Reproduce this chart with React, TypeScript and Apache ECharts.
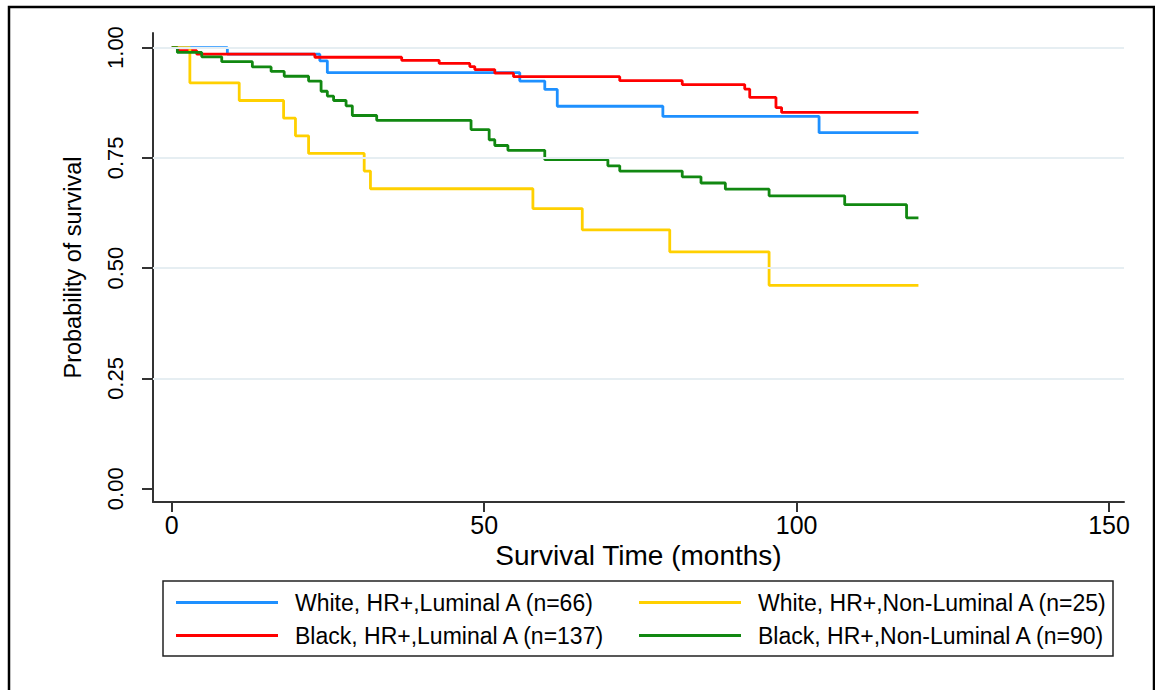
import React, { useEffect, useRef } from "react";
import * as echarts from "echarts";

const xTicks = [0, 50, 100, 150];
const yTicks = [0, 0.25, 0.5, 0.75, 1];
const gridValues = [0.25, 0.5, 0.75, 1];

const xTitle = "Survival Time (months)";
const yTitle = "Probability of survival";

const nameWhiteLum = "White, HR+,Luminal A (n=66)";
const nameBlackLum = "Black, HR+,Luminal A (n=137)";
const nameWhiteNon = "White, HR+,Non-Luminal A (n=25)";
const nameBlackNon = "Black, HR+,Non-Luminal A (n=90)";

const whiteLumTime = [0, 8.9, 23.7, 24.9, 55.7, 59.7, 61.7, 78.6, 103.6, 119.5];
const whiteLumSurv = [1, 0.985, 0.97, 0.943, 0.924, 0.905, 0.867, 0.844, 0.807, 0.807];

const blackLumTime = [0, 1, 4.0, 22.9, 36.8, 42.8, 47.7, 48.5, 51.7, 54.7, 71.7, 81.7, 91.7, 92.5, 96.7, 97.6, 119.5];
const blackLumSurv = [1, 0.993, 0.985, 0.978, 0.971, 0.964, 0.957, 0.95, 0.942, 0.934, 0.925, 0.916, 0.906, 0.887, 0.864, 0.853, 0.853];

const whiteNonTime = [0, 2.9, 10.8, 17.9, 19.8, 21.9, 30.8, 31.8, 57.8, 65.7, 79.7, 95.6, 119.5];
const whiteNonSurv = [1, 0.92, 0.88, 0.84, 0.8, 0.76, 0.72, 0.68, 0.635, 0.587, 0.537, 0.461, 0.461];

const blackNonTime = [0, 0.9, 4.8, 8.0, 12.9, 15.9, 18.0, 21.9, 23.9, 24.9, 25.9, 27.9, 28.9, 32.8, 47.9, 50.8, 51.7, 53.8, 59.7, 69.8, 71.7, 81.7, 84.7, 88.6, 95.6, 107.7, 117.6, 119.5];
const blackNonSurv = [1, 0.989, 0.979, 0.968, 0.956, 0.946, 0.935, 0.924, 0.901, 0.89, 0.88, 0.868, 0.846, 0.835, 0.814, 0.791, 0.778, 0.767, 0.746, 0.732, 0.72, 0.707, 0.693, 0.679, 0.664, 0.644, 0.614, 0.614];

const colors = {
  whiteLum: "#1E90FF",
  blackLum: "#FF0000",
  whiteNon: "#FFD000",
  blackNon: "#118811",
};

const FONT = "Liberation Sans, Arial, sans-serif";

function pairs(t: number[], s: number[]) {
  return t.map((v, i) => [v, s[i]]);
}

export default function App() {
  const ref = useRef<HTMLDivElement>(null);

  useEffect(() => {
    const chart = echarts.init(ref.current!, null, { renderer: "svg" });

    const mkSeries = (name: string, color: string, t: number[], s: number[]) => ({
      name,
      type: "line",
      step: "end",
      data: pairs(t, s),
      showSymbol: false,
      symbol: "none",
      color,
      itemStyle: { color },
      lineStyle: { color, width: 2.8 },
      emphasis: { disabled: true },
      z: 2,
    });

    const legendCommon = {
      orient: "vertical",
      icon: "rect",
      itemWidth: 102,
      itemHeight: 3,
      itemGap: 10,
      padding: 0,
      selectedMode: false,
      textStyle: { fontFamily: FONT, fontSize: 23, color: "#000", padding: [0, 0, 0, 12] },
    };

    const option: any = {
      animation: false,
      backgroundColor: "#fff",
      grid: { left: 153, right: 31, top: 33, bottom: 188, containLabel: false },
      xAxis: {
        type: "value",
        min: -3,
        max: 152.4,
        name: xTitle,
        nameLocation: "middle",
        nameGap: 27,
        nameTextStyle: { fontFamily: FONT, fontSize: 28, color: "#000" },
        axisLine: { onZero: false, lineStyle: { color: "#333", width: 2 } },
        axisTick: { show: true, length: 10, customValues: xTicks, lineStyle: { color: "#333", width: 2 } },
        axisLabel: { customValues: xTicks, margin: 10, fontFamily: FONT, fontSize: 25, color: "#000" },
        splitLine: { show: false },
      },
      yAxis: {
        type: "value",
        min: -0.03,
        max: 1.033,
        name: yTitle,
        nameLocation: "middle",
        nameGap: 68,
        nameRotate: 90,
        nameTextStyle: { fontFamily: FONT, fontSize: 23.5, color: "#000" },
        axisLine: { onZero: false, lineStyle: { color: "#333", width: 2 } },
        axisTick: { show: true, length: 11, customValues: yTicks, lineStyle: { color: "#333", width: 2 } },
        axisLabel: {
          customValues: yTicks,
          rotate: 90,
          margin: 27,
          fontFamily: FONT,
          fontSize: 22,
          color: "#000",
          formatter: (v: number) => v.toFixed(2),
        },
        splitLine: { show: false },
      },
      legend: [
        { ...legendCommon, left: 176, top: 591, data: [nameWhiteLum, nameBlackLum] },
        { ...legendCommon, left: 639, top: 591, data: [nameWhiteNon, nameBlackNon] },
      ],
      series: [
        {
          name: "grid",
          type: "line",
          data: [],
          silent: true,
          markLine: {
            silent: true,
            symbol: ["none", "none"],
            label: { show: false },
            emphasis: { disabled: true },
            lineStyle: { color: "#e6eef2", width: 2, type: "solid" },
            data: gridValues.map((v) => ({ yAxis: v })),
          },
        },
        mkSeries(nameWhiteLum, colors.whiteLum, whiteLumTime, whiteLumSurv),
        mkSeries(nameBlackLum, colors.blackLum, blackLumTime, blackLumSurv),
        mkSeries(nameWhiteNon, colors.whiteNon, whiteNonTime, whiteNonSurv),
        mkSeries(nameBlackNon, colors.blackNon, blackNonTime, blackNonSurv),
      ],
      graphic: [
        {
          type: "rect",
          shape: { x: 9, y: 7, width: 1145, height: 700 },
          style: { fill: "none", stroke: "#000", lineWidth: 2.5 },
          silent: true,
        },
        {
          type: "rect",
          shape: { x: 163, y: 581, width: 950, height: 75 },
          style: { fill: "none", stroke: "#222", lineWidth: 1.5 },
          silent: true,
        },
      ],
    };

    chart.setOption(option);
    return () => chart.dispose();
  }, []);

  return (
    <div
      ref={ref}
      style={{ position: "fixed", left: 0, top: 0, width: 1155, height: 690, background: "#fff" }}
    />
  );
}
